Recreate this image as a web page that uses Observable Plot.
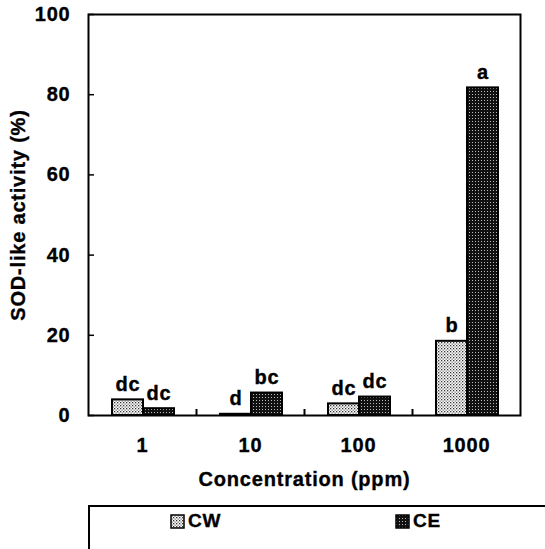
<!DOCTYPE html>
<html>
<head>
<meta charset="utf-8">
<script src="https://cdn.jsdelivr.net/npm/d3@7"></script>
<script src="https://cdn.jsdelivr.net/npm/@observablehq/plot@0.6"></script>
<style>
  body { margin: 0; background: #fff; font-family: "Liberation Sans", Arial, sans-serif; }
  #chart svg text { letter-spacing: 0.8px; stroke: #000; stroke-width: 0.35px; }
  #legend { margin-left: 88px; width: 470px; height: 44px; border: 2px solid #000; border-right: none; border-bottom: none; box-sizing: border-box; position: relative; font-weight: bold; font-size: 19px; letter-spacing: 0.8px; -webkit-text-stroke: 0.35px #000; }
  .item { position: absolute; top: 3px; display: flex; align-items: center; }
  .item svg { margin-right: 3px; }
</style>
</head>
<body>
<div id="chart"></div>
<div id="legend"></div>
<script>
const concentrations = ["1", "10", "100", "1000"];
const series = ["CW", "CE"];
const cwValues = [3.9, 0.3, 2.9, 18.5];
const ceValues = [1.7, 5.6, 4.6, 81.7];
const cwLabels = ["dc", "d", "dc", "b"];
const ceLabels = ["dc", "bc", "dc", "a"];
const yTicks = [0, 20, 40, 60, 80, 100];
const separators = ["1", "10", "100"];

const W = 545, H = 505, ML = 88, MR = 25, MT = 14, MB = 90;
const band = (W - ML - MR) / concentrations.length;

const cw = concentrations.map((c, i) => ({conc: c, series: "CW", value: cwValues[i], label: cwLabels[i]}));
const ce = concentrations.map((c, i) => ({conc: c, series: "CE", value: ceValues[i], label: ceLabels[i]}));

const cwL = 24, cwR = 55, ceL = 55, ceR = 86;

const chart = Plot.plot({
  width: W, height: H,
  marginLeft: ML, marginRight: MR, marginTop: MT, marginBottom: MB,
  style: {fontFamily: "Liberation Sans, Arial, sans-serif", fontWeight: "bold", fontSize: "20px", color: "#000", background: "#fff"},
  x: {domain: concentrations, padding: 0},
  y: {domain: [0, 100]},
  marks: [
    Plot.barY(cw, {x: "conc", y: "value", fill: "url(#patCW)", stroke: "#000", strokeWidth: 2, insetLeft: cwL, insetRight: band - cwR}),
    Plot.barY(ce, {x: "conc", y: "value", fill: "url(#patCE)", stroke: "#000", strokeWidth: 2, insetLeft: ceL, insetRight: band - ceR}),
    Plot.text(cw, {x: "conc", y: "value", text: "label", dx: (cwL + cwR) / 2 - band / 2, dy: -9, lineAnchor: "bottom", fontSize: 20}),
    Plot.text(ce, {x: "conc", y: "value", text: "label", dx: (ceL + ceR) / 2 - band / 2, dy: -9, lineAnchor: "bottom", fontSize: 20}),
    Plot.ruleX(separators, {x: d => d, y1: 0, y2: 1.5, dx: band / 2, stroke: "#000", strokeWidth: 2}),
    Plot.tickY(yTicks, {y: d => d, insetRight: W - ML - MR - 6, stroke: "#000", strokeWidth: 1.5}),
    Plot.axisY({ticks: yTicks, tickSize: 0, tickPadding: 18, label: "SOD-like activity (%)", labelAnchor: "center", labelArrow: "none", labelOffset: 78}),
    Plot.axisX({tickSize: 0, tickPadding: 22, label: "Concentration (ppm)", labelAnchor: "center", labelArrow: "none", labelOffset: 70}),
    Plot.frame({stroke: "#000", strokeWidth: 2})
  ]
});

d3.select(chart).insert("defs", ":first-child").html(`
  <pattern id="patCW" patternUnits="userSpaceOnUse" width="3" height="3">
    <rect width="3" height="3" fill="#fff"/>
    <rect x="0" y="0" width="1.3" height="1.3" fill="#333"/>
    <rect x="1.5" y="1.5" width="1.3" height="1.3" fill="#777"/>
  </pattern>
  <pattern id="patCE" patternUnits="userSpaceOnUse" width="3" height="3">
    <rect width="3" height="3" fill="#111"/>
    <rect x="1" y="1" width="1" height="1" fill="#bbb"/>
  </pattern>`);
document.getElementById("chart").appendChild(chart);

const legend = d3.select("#legend");
const legendPos = {CW: 80, CE: 305};
series.forEach(s => {
  const item = legend.append("div").attr("class", "item").style("left", legendPos[s] + "px");
  item.append("svg").attr("width", 15).attr("height", 15)
    .append("rect").attr("x", 1).attr("y", 1).attr("width", 13).attr("height", 13)
    .attr("fill", s === "CW" ? "url(#patCW)" : "url(#patCE)").attr("stroke", "#000").attr("stroke-width", 1.5);
  item.append("span").text(s);
});
</script>
</body>
</html>
